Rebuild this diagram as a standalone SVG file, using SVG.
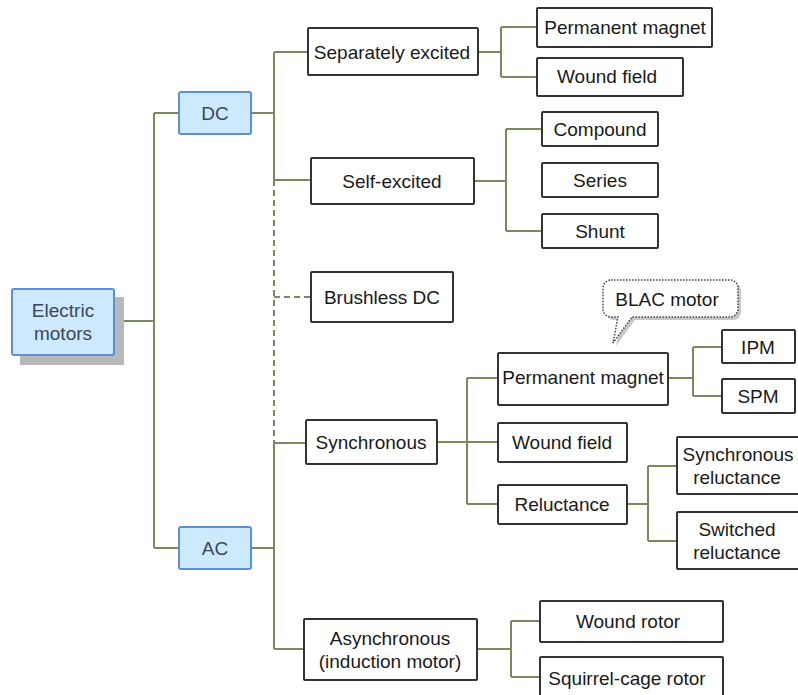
<svg xmlns="http://www.w3.org/2000/svg" width="798" height="695" viewBox="0 0 798 695">
<defs>
<style>
.c{fill:none;stroke:#7a8a5c;stroke-width:2}
.d{fill:none;stroke:#7a8a5c;stroke-width:2;stroke-dasharray:6 4}
.b{fill:#ffffff;stroke:#333333;stroke-width:2}
.bl{fill:#cde9fd;stroke:#5b8fd6;stroke-width:2}
.t{font-family:"Liberation Sans",Arial,sans-serif;font-size:19px;fill:#1a1a1a;text-anchor:middle;dominant-baseline:central}
.tb{font-family:"Liberation Sans",Arial,sans-serif;font-size:19px;fill:#3a4560;text-anchor:middle;dominant-baseline:central}
</style>
</defs>
<rect width="798" height="695" fill="#ffffff"/>
<g id="connectors">
<path class="c" d="M114 321H154M154 113V548M154 113H179M154 548H179"/>
<path class="c" d="M251 113H274M274 52V180M274 52H308M274 180H311"/>
<path class="d" d="M274 180V443M274 297H311"/>
<path class="c" d="M251 548H274M274 443V649M274 443H306M274 649H304"/>
<path class="c" d="M478 52H501M501 27V77M501 27H537M501 77H537"/>
<path class="c" d="M474 181H506M506 129V231M506 129H542M506 231H542"/>
<path class="c" d="M437 442H467M467 378V504M467 378H498M467 442H498M467 504H498"/>
<path class="c" d="M668 378H693M693 347V396M693 347H722M693 396H722"/>
<path class="c" d="M627 504H648M648 466V541M648 466H677M648 541H677"/>
<path class="c" d="M477 649H511M511 621V677M511 621H540M511 677H540"/>
</g>
<g id="electric-motors">
<rect x="20" y="297" width="104" height="68" fill="#b8b8b8"/>
<rect class="bl" x="12" y="289" width="102" height="66" rx="2"/>
<text class="tb" x="63" y="310">Electric</text>
<text class="tb" x="63" y="333">motors</text>
</g>
<g id="dc"><rect class="bl" x="179" y="92" width="72" height="42" rx="2"/><text class="tb" x="215" y="113">DC</text></g>
<g id="ac"><rect class="bl" x="179" y="527" width="72" height="42" rx="2"/><text class="tb" x="215" y="548">AC</text></g>
<g id="separately-excited"><rect class="b" x="308" y="28" width="170" height="47" rx="1"/><text class="t" x="392" y="52">Separately excited</text></g>
<g id="self-excited"><rect class="b" x="311" y="158" width="163" height="46" rx="1"/><text class="t" x="392" y="181">Self-excited</text></g>
<g id="brushless-dc"><rect class="b" x="311" y="272" width="142" height="50" rx="1"/><text class="t" x="382" y="297">Brushless DC</text></g>
<g id="synchronous"><rect class="b" x="306" y="420" width="131" height="44" rx="1"/><text class="t" x="371" y="442">Synchronous</text></g>
<g id="asynchronous"><rect class="b" x="304" y="619" width="173" height="61" rx="1"/><text class="t" x="390" y="638">Asynchronous</text><text class="t" x="390" y="661">(induction motor)</text></g>
<g id="pm-dc"><rect class="b" x="537" y="8" width="175" height="39" rx="1"/><text class="t" x="625" y="27">Permanent magnet</text></g>
<g id="wf-dc"><rect class="b" x="537" y="58" width="146" height="38" rx="1"/><text class="t" x="607" y="76">Wound field</text></g>
<g id="compound"><rect class="b" x="542" y="112" width="116" height="34" rx="1"/><text class="t" x="600" y="129">Compound</text></g>
<g id="series"><rect class="b" x="542" y="163" width="116" height="34" rx="1"/><text class="t" x="600" y="180">Series</text></g>
<g id="shunt"><rect class="b" x="542" y="214" width="116" height="34" rx="1"/><text class="t" x="600" y="231">Shunt</text></g>
<g id="blac-callout">
<path d="M614 283H733a8 8 0 0 1 8 8V312a8 8 0 0 1-8 8H635L616 346L621 320H614a8 8 0 0 1-8-8V291a8 8 0 0 1 8-8Z" fill="#c8c8c8"/>
<path d="M611 280H730a8 8 0 0 1 8 8V309a8 8 0 0 1-8 8H632L613 343L618 317H611a8 8 0 0 1-8-8V288a8 8 0 0 1 8-8Z" fill="#ffffff" stroke="#444444" stroke-width="1.5" stroke-dasharray="1.5 1.5"/>
<text class="t" x="667" y="299">BLAC motor</text>
</g>
<g id="pm-ac"><rect class="b" x="498" y="353" width="170" height="52" rx="1"/><text class="t" x="583" y="377">Permanent magnet</text></g>
<g id="wf-ac"><rect class="b" x="498" y="423" width="129" height="39" rx="1"/><text class="t" x="562" y="442">Wound field</text></g>
<g id="reluctance"><rect class="b" x="498" y="485" width="129" height="39" rx="1"/><text class="t" x="562" y="504">Reluctance</text></g>
<g id="ipm"><rect class="b" x="722" y="330" width="73" height="33" rx="1"/><text class="t" x="758" y="347">IPM</text></g>
<g id="spm"><rect class="b" x="722" y="379" width="73" height="34" rx="1"/><text class="t" x="758" y="396">SPM</text></g>
<g id="sync-rel"><rect class="b" x="677" y="437" width="125" height="57" rx="1"/><text class="t" x="738" y="454">Synchronous</text><text class="t" x="737" y="477">reluctance</text></g>
<g id="sw-rel"><rect class="b" x="677" y="512" width="125" height="57" rx="1"/><text class="t" x="737" y="529">Switched</text><text class="t" x="737" y="552">reluctance</text></g>
<g id="wound-rotor"><rect class="b" x="540" y="601" width="183" height="41" rx="1"/><text class="t" x="628" y="621">Wound rotor</text></g>
<g id="squirrel"><rect class="b" x="540" y="657" width="183" height="44" rx="1"/><text class="t" x="627" y="678">Squirrel-cage rotor</text></g>
</svg>
